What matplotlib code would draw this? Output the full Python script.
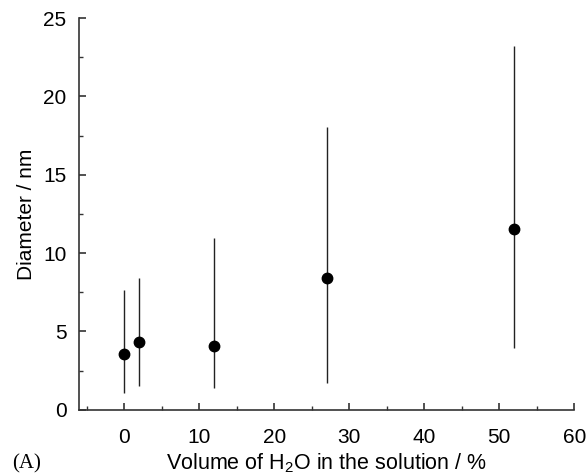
import matplotlib.pyplot as plt
from matplotlib.ticker import MultipleLocator

# data
water_pct = [0, 2, 12, 27, 52]
diameter = [3.57, 4.36, 4.08, 8.44, 11.56]
err_low = [1.06, 1.53, 1.38, 1.74, 3.97]
err_high = [7.65, 8.44, 10.97, 18.07, 23.2]

plt.rcParams['font.family'] = ['Liberation Sans', 'DejaVu Sans']
plt.rcParams['mathtext.default'] = 'regular'

fig = plt.figure(figsize=(5.86, 4.76), dpi=100)
ax = fig.add_axes([0.135, 0.139, 0.845, 0.823])

yerr = [[d - lo for d, lo in zip(diameter, err_low)],
        [hi - d for d, hi in zip(diameter, err_high)]]
ax.errorbar(water_pct, diameter, yerr=yerr, fmt='o', color='black',
            ecolor='#222222', elinewidth=1.0, capsize=0, markersize=7.5)

ax.set_xlim(-6, 60)
ax.set_ylim(0, 25)
ax.xaxis.set_major_locator(MultipleLocator(10))
ax.xaxis.set_minor_locator(MultipleLocator(5))
ax.yaxis.set_major_locator(MultipleLocator(5))
ax.yaxis.set_minor_locator(MultipleLocator(2.5))

for side in ['top', 'right']:
    ax.spines[side].set_visible(False)
for side in ['left', 'bottom']:
    ax.spines[side].set_linewidth(1.2)
    ax.spines[side].set_color('#333333')

ax.tick_params(which='major', direction='in', length=5, width=1.2,
               color='#333333', labelsize=15)
ax.tick_params(which='minor', direction='in', length=3, width=1.0,
               color='#333333')
ax.tick_params(axis='x', which='major', pad=13)
ax.tick_params(axis='y', which='major', pad=9)

ax.set_xlabel('Volume of H$_2$O in the solution / %', fontsize=15.5, labelpad=3)
ax.set_ylabel('Diameter / nm', fontsize=15, labelpad=5)

fig.text(0.02, 0.016, '(A)', fontsize=15, family='Liberation Serif')

fig.savefig('out.png', dpi=100)
